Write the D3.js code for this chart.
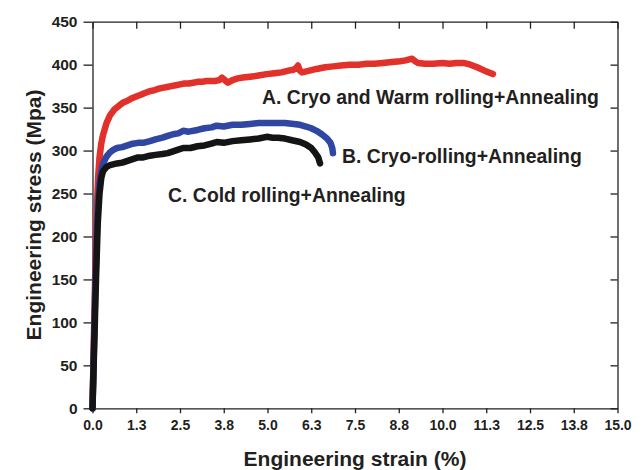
<!DOCTYPE html>
<html>
<head>
<meta charset="utf-8">
<script src="https://cdn.jsdelivr.net/npm/d3@7"></script>
<style>
  body { margin: 0; background: #fff; }
  text { font-family: "Liberation Sans", Arial, Helvetica, sans-serif; font-weight: bold; fill: #231f20; }
  .domain, .tick line { stroke: #231f20; stroke-width: 1.3; }
</style>
</head>
<body>
<script>
var width = 644,
    height = 470;

// strain (%) , stress (MPa)
var curveA = [[0,0],[0.03,60],[0.06,120],[0.09,180],[0.12,230],[0.16,268],[0.2,292],[0.25,308],[0.3,318],[0.4,332],[0.5,341],[0.63,348],[0.75,352],[0.88,356],[1.0,358],[1.13,361],[1.25,363],[1.38,365],[1.5,367],[1.63,369],[1.75,370],[1.88,372],[2.0,373],[2.13,374],[2.25,375],[2.38,376],[2.5,377],[2.63,378],[2.75,378],[2.88,379],[3.0,380],[3.13,380],[3.25,381],[3.38,381],[3.5,381],[3.62,382],[3.7,385],[3.78,382],[3.87,379],[4.0,382],[4.15,384],[4.3,385],[4.5,386],[4.7,387],[4.98,389],[5.2,390],[5.4,391],[5.6,393],[5.73,394],[5.82,396],[5.87,399],[5.93,393],[5.99,391],[6.2,393],[6.4,395],[6.65,397],[6.88,398],[7.1,399],[7.35,400],[7.6,400],[7.83,401],[8.05,401],[8.3,402],[8.55,403],[8.79,404],[8.95,405],[9.13,407],[9.22,404],[9.3,402],[9.5,401],[9.74,401],[10.0,402],[10.2,401],[10.4,402],[10.6,402],[10.8,400],[10.99,397],[11.2,393],[11.44,389]];

var curveB = [[0,0],[0.04,70],[0.08,140],[0.12,200],[0.16,240],[0.2,262],[0.25,276],[0.3,285],[0.4,293],[0.5,298],[0.6,301],[0.7,303],[0.85,304],[1.0,306],[1.15,308],[1.3,309],[1.45,309],[1.64,311],[1.8,313],[2.0,315],[2.15,317],[2.3,319],[2.45,320],[2.59,323],[2.75,322],[3.0,324],[3.2,326],[3.4,327],[3.55,329],[3.75,328],[4.0,330],[4.25,330],[4.5,331],[4.75,332],[4.98,332],[5.25,332],[5.5,332],[5.75,331],[5.93,330],[6.1,328],[6.25,326],[6.4,323],[6.55,319],[6.7,314],[6.8,309],[6.85,303],[6.87,297]];

var curveC = [[0,0],[0.05,75],[0.1,150],[0.15,215],[0.2,250],[0.25,268],[0.3,276],[0.4,281],[0.5,283],[0.7,285],[0.85,286],[1.0,288],[1.15,290],[1.3,292],[1.45,292],[1.64,294],[1.8,295],[2.0,296],[2.15,297],[2.3,299],[2.45,301],[2.59,303],[2.8,303],[3.0,305],[3.2,306],[3.4,308],[3.55,310],[3.75,309],[4.0,311],[4.25,312],[4.5,313],[4.75,314],[4.98,316],[5.15,315],[5.3,315],[5.5,314],[5.7,312],[5.93,310],[6.1,307],[6.25,303],[6.35,298],[6.45,292],[6.5,285]];

var labels = ["A. Cryo and Warm rolling+Annealing", "B. Cryo-rolling+Annealing", "C. Cold rolling+Annealing"];
var labelAt = [[4.84, 354], [7.13, 285], [2.16, 240]]; // text anchor points (strain, stress)

var xTickValues = [0, 1.25, 2.5, 3.75, 5, 6.25, 7.5, 8.75, 10, 11.25, 12.5, 13.75, 15];
var xTickLabels = ["0.0","1.3","2.5","3.8","5.0","6.3","7.5","8.8","10.0","11.3","12.5","13.8","15.0"];
var yTickValues = [0, 50, 100, 150, 200, 250, 300, 350, 400, 450];

var plotLeft = 92.5, plotRight = 617.5, plotTop = 21.7, plotBottom = 408.3;

var svg = d3.select('body')
  .append('svg')
  .attr('width', width)
  .attr('height', height);

var x = d3.scaleLinear().domain([0, 15]).range([plotLeft, plotRight]);
var y = d3.scaleLinear().domain([0, 450]).range([plotBottom, plotTop]);

// axes
var xAxis = svg.append('g')
  .attr('transform', 'translate(0,' + plotBottom + ')')
  .call(d3.axisBottom(x).tickValues(xTickValues)
    .tickFormat(function(d, i) { return xTickLabels[i]; })
    .tickSize(5).tickSizeOuter(0).tickPadding(7));
xAxis.selectAll('text').style('font-size', '14px');

var yAxis = svg.append('g')
  .attr('transform', 'translate(' + plotLeft + ',0)')
  .call(d3.axisLeft(y).tickValues(yTickValues).tickSize(9).tickSizeOuter(0).tickPadding(6));
yAxis.selectAll('text').style('font-size', '15.5px');

svg.append('g')
  .attr('transform', 'translate(0,' + plotTop + ')')
  .call(d3.axisTop(x).tickValues(xTickValues).tickFormat('').tickSize(-7).tickSizeOuter(0));

svg.append('g')
  .attr('transform', 'translate(' + plotRight + ',0)')
  .call(d3.axisRight(y).tickValues(yTickValues).tickFormat('').tickSize(-7).tickSizeOuter(0));

// curves
var line = d3.line()
  .x(function(d) { return x(d[0]); })
  .y(function(d) { return y(d[1]); });

var curves = [
  {data: curveA, color: '#e2302a'},
  {data: curveB, color: '#2f46a3'},
  {data: curveC, color: '#141414'}
];

svg.append('g').selectAll('path')
  .data(curves)
  .enter()
  .append('path')
  .attr('d', function(d) { return line(d.data); })
  .attr('fill', 'none')
  .attr('stroke', function(d) { return d.color; })
  .attr('stroke-width', 6.5)
  .attr('stroke-linecap', 'round')
  .attr('stroke-linejoin', 'round');

// annotations
svg.append('g').selectAll('text')
  .data(labels)
  .enter()
  .append('text')
  .attr('x', function(d, i) { return x(labelAt[i][0]); })
  .attr('y', function(d, i) { return y(labelAt[i][1]); })
  .style('font-size', '19.4px')
  .text(function(d) { return d; });

// axis titles
svg.append('text')
  .attr('x', (plotLeft + plotRight) / 2)
  .attr('y', 466)
  .attr('text-anchor', 'middle')
  .style('font-size', '21px')
  .text('Engineering strain (%)');

svg.append('text')
  .attr('transform', 'translate(41,' + (plotTop + plotBottom) / 2 + ') rotate(-90)')
  .attr('text-anchor', 'middle')
  .style('font-size', '21px')
  .text('Engineering stress (Mpa)');
</script>
</body>
</html>
